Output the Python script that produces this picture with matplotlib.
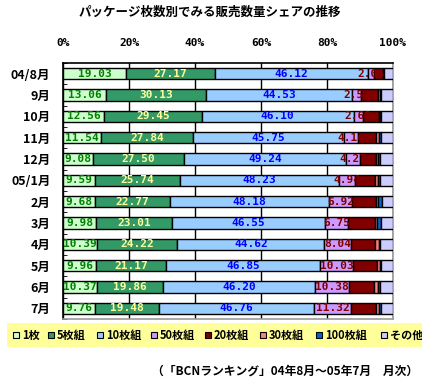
import numpy as np
import matplotlib.pyplot as plt
from matplotlib.patches import Rectangle

plt.rcParams['font.family'] = ['Noto Sans CJK JP', 'DejaVu Sans']

months = ['04/8月', '9月', '10月', '11月', '12月', '05/1月',
          '2月', '3月', '4月', '5月', '6月', '7月']

one = [19.03, 13.06, 12.56, 11.54, 9.08, 9.59, 9.68, 9.98, 10.39, 9.96, 10.37, 9.76]
five = [27.17, 30.13, 29.45, 27.84, 27.50, 25.74, 22.77, 23.01, 24.22, 21.17, 19.86, 19.48]
ten = [46.12, 44.53, 46.10, 45.75, 49.24, 48.23, 48.18, 46.55, 44.62, 46.85, 46.20, 46.76]
fifty = [2.06, 2.56, 2.68, 4.14, 4.27, 4.94, 6.92, 6.75, 8.04, 10.03, 10.38, 11.32]
twenty = [2.5, 5.2, 4.9, 5.7, 4.9, 6.1, 7.2, 8.2, 7.4, 7.0, 7.5, 7.6]
thirty = [0.2, 0.5, 0.4, 0.7, 0.6, 0.8, 0.8, 0.6, 1.0, 1.0, 1.0, 0.8]
hundred = [0.2, 0.5, 0.4, 0.6, 0.6, 0.8, 1.0, 1.2, 0.5, 0.5, 0.6, 0.6]
other = [2.72, 3.52, 3.51, 3.73, 3.81, 3.8, 3.45, 3.71, 3.83, 3.49, 4.09, 3.68]

names = ['1枚', '5枚組', '10枚組', '50枚組', '20枚組', '30枚組', '100枚組', 'その他']
series = [one, five, ten, fifty, twenty, thirty, hundred, other]
colors = ['#CCFFCC', '#339966', '#99CCFF', '#CC99FF', '#800000', '#FF8080', '#0066CC', '#CCCCFF']
label_colors = ['#008000', '#FFFF99', '#0000FF', '#800000']

fig = plt.figure(figsize=(4.25, 3.81), dpi=100)
ax = fig.add_axes([63 / 425, 1 - 319 / 381, 330 / 425, 256 / 381])

y = np.arange(len(months))
left = np.zeros(len(months))
for i, (vals, c) in enumerate(zip(series, colors)):
    vals = np.array(vals)
    ax.barh(y, vals, left=left, height=0.52, color=c, edgecolor='black',
            linewidth=1.0, zorder=3)
    if i < 4:
        for yy, l, v in zip(y, left, vals):
            ax.text(l + v / 2, yy, f'{v:.2f}', ha='center', va='center',
                    color=label_colors[i], fontsize=8, fontweight='bold',
                    family='DejaVu Sans Mono', zorder=4)
    left += vals

ax.set_xlim(0, 100)
ax.set_ylim(len(months) - 0.5, -0.5)
ax.xaxis.tick_top()
ax.set_xticks(np.arange(0, 101, 20))
ax.set_xticklabels([f'{v}%' for v in range(0, 101, 20)], fontsize=8,
                   fontweight='bold', family='DejaVu Sans Mono')
ax.tick_params(axis='x', length=0, pad=11)
ax.set_yticks(y)
ax.set_yticklabels(months, fontsize=9, fontweight='bold')
ax.tick_params(axis='y', length=0, pad=9)
ax.set_yticks(np.arange(-0.5, len(months), 1), minor=True)
ax.tick_params(axis='y', which='minor', direction='in', length=3, color='black')
ax.grid(axis='x', color='black', linewidth=1.0, zorder=0)
ax.spines['top'].set_color('black')
ax.spines['left'].set_color('black')
ax.spines['right'].set_color('#999999')
ax.spines['bottom'].set_color('#999999')
for s in ax.spines.values():
    s.set_linewidth(1.2)

fig.text(210 / 425, 1 - 12 / 381, 'パッケージ枚数別でみる販売数量シェアの推移',
         ha='center', va='center', fontsize=9, fontweight='bold')

# legend band
lax = fig.add_axes([7 / 425, 1 - 347 / 381, 415 / 425, 24 / 381])
lax.set_facecolor('#FFFF99')
lax.set_xlim(7, 422)
lax.set_ylim(0, 1)
lax.set_xticks([])
lax.set_yticks([])
for s in lax.spines.values():
    s.set_visible(False)
leg_x = [13, 48, 97, 151, 205, 260, 316, 381]
for x0, n, c in zip(leg_x, names, colors):
    lax.add_patch(Rectangle((x0, 0.36), 6, 0.28, facecolor=c, edgecolor='black',
                            linewidth=0.8))
    lax.text(x0 + 9, 0.5, n, va='center', ha='left', fontsize=8,
             fontweight='bold', clip_on=True)

fig.text(418 / 425, 1 - 371 / 381, '（「BCNランキング」04年8月～05年7月　月次）',
         ha='right', va='center', fontsize=8.5, fontweight='bold')

fig.savefig('out.png', dpi=100)
